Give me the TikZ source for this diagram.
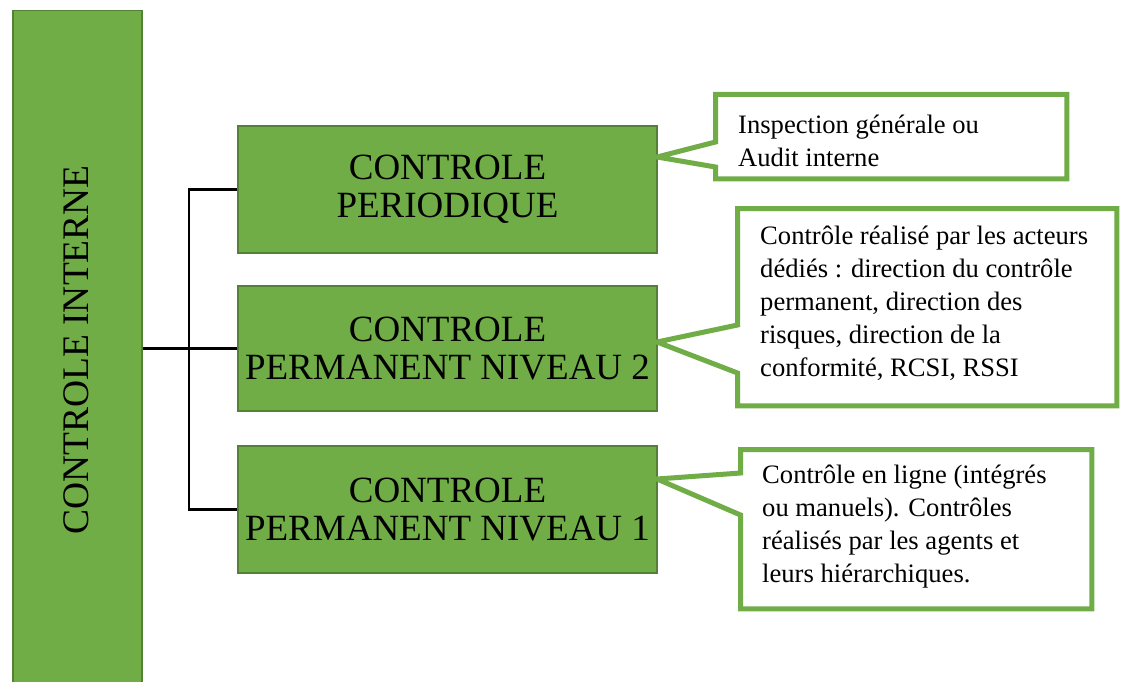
\documentclass[tikz,border=0pt]{standalone}
\usepackage{fontspec}
\setmainfont{Liberation Serif}
\definecolor{leaf}{HTML}{70AD47}
\definecolor{leafdark}{HTML}{548235}
\begin{document}
\begin{tikzpicture}[x=1pt,y=-1pt,
  greenbox/.style={draw=leafdark, line width=1.5pt, fill=leaf, align=center,
    inner sep=0pt, font=\fontsize{37}{38}\selectfont},
  callouttext/.style={anchor=west, align=left, inner sep=0pt,
    font=\fontsize{26.6}{33}\selectfont},
  bubblebox/.style={inner sep=0pt, anchor=north west},
  bubble/.style={draw=leaf, line width=5pt, fill=white, line join=miter},
  link/.style={line width=2.4pt, black}]
\useasboundingbox (0,0) rectangle (1126,682);

% main vertical bar
\node[greenbox, minimum width=129pt, minimum height=690pt, anchor=north west] (bar) at (12,10) {};
\node[rotate=90, inner sep=0pt, font=\fontsize{37.5}{38}\selectfont] (barlabel) at (76,350) {CONTROLE INTERNE};

% the three control levels
\node[greenbox, minimum width=419pt, minimum height=127pt] (per) at (447.5,189.5) {CONTROLE\\PERIODIQUE};
\node[greenbox, minimum width=419pt, minimum height=125pt] (n2) at (447.5,348.5) {CONTROLE\\PERMANENT NIVEAU 2};
\node[greenbox, minimum width=419pt, minimum height=127pt] (n1) at (447.5,509.5) {CONTROLE\\PERMANENT NIVEAU 1};

% tree connectors
\draw[link] (bar.east |- n2.west) -- (n2.west);
\draw[link] (per.west) -- ++(-48,0) |- (n1.west);

% callouts
\node[bubblebox, minimum width=351pt, minimum height=84pt] (c1) at (715.5,94.5) {};
\coordinate (t1) at (657,157);
\draw[bubble] (c1.north west) -- (c1.north east) -- (c1.south east) -- (c1.south west)
  -- (c1.west |- 0,167) -- (t1) -- (c1.west |- 0,142) -- cycle;
\node[callouttext] (c1text) at (738,141) {Inspection générale ou\\Audit interne};

\node[bubblebox, minimum width=379pt, minimum height=197pt] (c2) at (737.5,208.5) {};
\coordinate (t2) at (657,342);
\draw[bubble] (c2.north west) -- (c2.north east) -- (c2.south east) -- (c2.south west)
  -- (c2.west |- 0,373) -- (t2) -- (c2.west |- 0,325) -- cycle;
\node[callouttext] (c2text) at (760,303) {Contrôle réalisé par les acteurs\\dédiés : direction du contrôle\\permanent, direction des\\risques, direction de la\\conformité, RCSI, RSSI};

\node[bubblebox, minimum width=351pt, minimum height=159pt] (c3) at (740.5,449.5) {};
\coordinate (t3) at (657,479);
\draw[bubble] (c3.north west) -- (c3.north east) -- (c3.south east) -- (c3.south west)
  -- (c3.west |- 0,515) -- (t3) -- (c3.west |- 0,473) -- cycle;
\node[callouttext] (c3text) at (762,527) {Contrôle en ligne (intégrés\\ou manuels). Contrôles\\réalisés par les agents et\\leurs hiérarchiques.};
\end{tikzpicture}
\end{document}
